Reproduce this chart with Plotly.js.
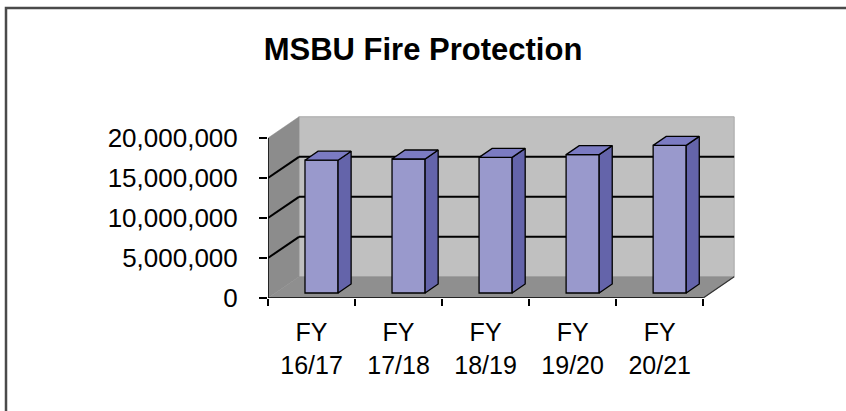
<!DOCTYPE html>
<html>
<head>
<meta charset="utf-8">
<script src="https://cdn.plot.ly/plotly-3.0.1.min.js"></script>
<style>html,body{margin:0;padding:0;background:#fff;overflow:hidden;}#chart{width:846px;height:411px;}</style>
</head>
<body>
<div id="chart"></div>
<script>
// ---- data ----
const categories = ['FY<br>16/17', 'FY<br>17/18', 'FY<br>18/19', 'FY<br>19/20', 'FY<br>20/21'];
const values = [16600000, 16750000, 16950000, 17300000, 18450000];
const yTicks = [0, 5000000, 10000000, 15000000, 20000000];
const chartTitle = 'MSBU Fire Protection';

// ---- 3D-look geometry (layout constants) ----
const N = categories.length;
const YMAX = 20000000;
const DX = 0.356, DY = 2650000;      // wall depth offset
const OFFX = 0.115, BW = 0.38;       // bar front face offset/width
const B0 = 625000;                   // front face base offset
const BDX = 0.15, BDY = 1125000;     // bar depth offset

const FONT = 'Arial, "Liberation Sans", sans-serif';

const xs = categories.map((c, i) => i + 0.5 + OFFX);
const frontBar = {
  type: 'bar', x: xs, y: values, base: values.map(() => B0), width: BW,
  marker: {color: '#9999cc', line: {color: '#000', width: 1.3}},
  hoverinfo: 'skip', showlegend: false
};
const topX = [], topY = [], sideX = [], sideY = [];
values.forEach((v, i) => {
  const xl = xs[i] - BW / 2, xr = xs[i] + BW / 2, t = B0 + v;
  topX.push(xl, xr, xr + BDX, xl + BDX, xl, null);
  topY.push(t, t, t + BDY, t + BDY, t, null);
  sideX.push(xr, xr, xr + BDX, xr + BDX, xr, null);
  sideY.push(B0, t, t + BDY, B0 + BDY, B0, null);
});
const topFace = {type: 'scatter', mode: 'lines', x: topX, y: topY, fill: 'toself',
  fillcolor: '#7b7bc2', line: {color: '#000', width: 1.3}, hoverinfo: 'skip', showlegend: false};
const sideFace = {type: 'scatter', mode: 'lines', x: sideX, y: sideY, fill: 'toself',
  fillcolor: '#6464aa', line: {color: '#000', width: 1.3}, hoverinfo: 'skip', showlegend: false};
// axis lines
const axisLines = {type: 'scatter', mode: 'lines', x: [0, 0, null, 0, N], y: [YMAX, 0, null, 0, 0],
  line: {color: '#000', width: 1.5}, cliponaxis: false, hoverinfo: 'skip', showlegend: false};

const shapes = [];
// back wall
shapes.push({type: 'path', xref: 'x', yref: 'y', layer: 'below',
  path: `M ${DX},${DY} L ${N + DX},${DY} L ${N + DX},${YMAX + DY} L ${DX},${YMAX + DY} Z`,
  fillcolor: '#c0c0c0', line: {color: '#a8a8a8', width: 1}});
// left wall
shapes.push({type: 'path', xref: 'x', yref: 'y', layer: 'below',
  path: `M 0,0 L 0,${YMAX} L ${DX},${YMAX + DY} L ${DX},${DY} Z`,
  fillcolor: '#8c8c8c', line: {color: '#8c8c8c', width: 0.5}});
// floor
shapes.push({type: 'path', xref: 'x', yref: 'y', layer: 'below',
  path: `M 0,0 L ${N},0 L ${N + DX},${DY} L ${DX},${DY} Z`,
  fillcolor: '#8f8f8f', line: {color: '#8f8f8f', width: 0.5}});
shapes.push({type: 'line', xref: 'x', yref: 'y', layer: 'below', x0: N, y0: 0, x1: N + DX, y1: DY,
  line: {color: '#333', width: 1.2}});
// gridlines
yTicks.filter(v => v > 0 && v < YMAX).forEach(v => {
  shapes.push({type: 'line', xref: 'x', yref: 'y', layer: 'below', x0: 0, y0: v, x1: DX, y1: v + DY,
    line: {color: '#000', width: 2}});
  shapes.push({type: 'line', xref: 'x', yref: 'y', layer: 'below', x0: DX, y0: v + DY, x1: N + DX, y1: v + DY,
    line: {color: '#000', width: 2}});
});
// outer frame (only top and left edges visible)
const L = 268, W = 470, T = 114, H = 184;
shapes.push({type: 'path', xref: 'paper', yref: 'paper', layer: 'above',
  path: `M ${(6 - L) / W},${(T + H - 430) / H} L ${(6 - L) / W},${(T + H - 8) / H} L ${(900 - L) / W},${(T + H - 8) / H}`,
  line: {color: '#4a4a4a', width: 2.5}});

const layout = {
  width: 846, height: 411, autosize: false,
  margin: {l: L, r: 846 - L - W, t: T, b: 411 - T - H},
  paper_bgcolor: '#fff', plot_bgcolor: 'rgba(0,0,0,0)',
  showlegend: false,
  title: {text: '<b>' + chartTitle + '</b>', font: {family: FONT, size: 31, color: '#000'},
    xref: 'container', x: 0.5, xanchor: 'center', yref: 'container', y: 1 - 49 / 411, yanchor: 'middle'},
  xaxis: {range: [0, 5.4], tickmode: 'array', tickvals: categories.map((c, i) => i + 0.5), ticktext: categories,
    ticks: '', showgrid: false, zeroline: false, showline: false, fixedrange: true,
    tickfont: {family: FONT, size: 25, color: '#000'}, ticklabelstandoff: 17,
    minor: {tickmode: 'linear', tick0: 0, dtick: 1, ticks: 'outside', ticklen: 7, tickwidth: 1.5, tickcolor: '#000', showgrid: false}},
  yaxis: {range: [0, 23000000], tickmode: 'array', tickvals: yTicks,
    ticktext: yTicks.map(v => v.toLocaleString('en-US')),
    ticks: 'outside', ticklen: 8, tickwidth: 1.5, tickcolor: '#000', showgrid: false, zeroline: false, showline: false,
    tickfont: {family: FONT, size: 26, color: '#000'}, ticklabelstandoff: 16, fixedrange: true},
  shapes: shapes
};

Plotly.newPlot('chart', [frontBar, sideFace, topFace, axisLines], layout, {displayModeBar: false, staticPlot: true});
</script>
</body>
</html>
